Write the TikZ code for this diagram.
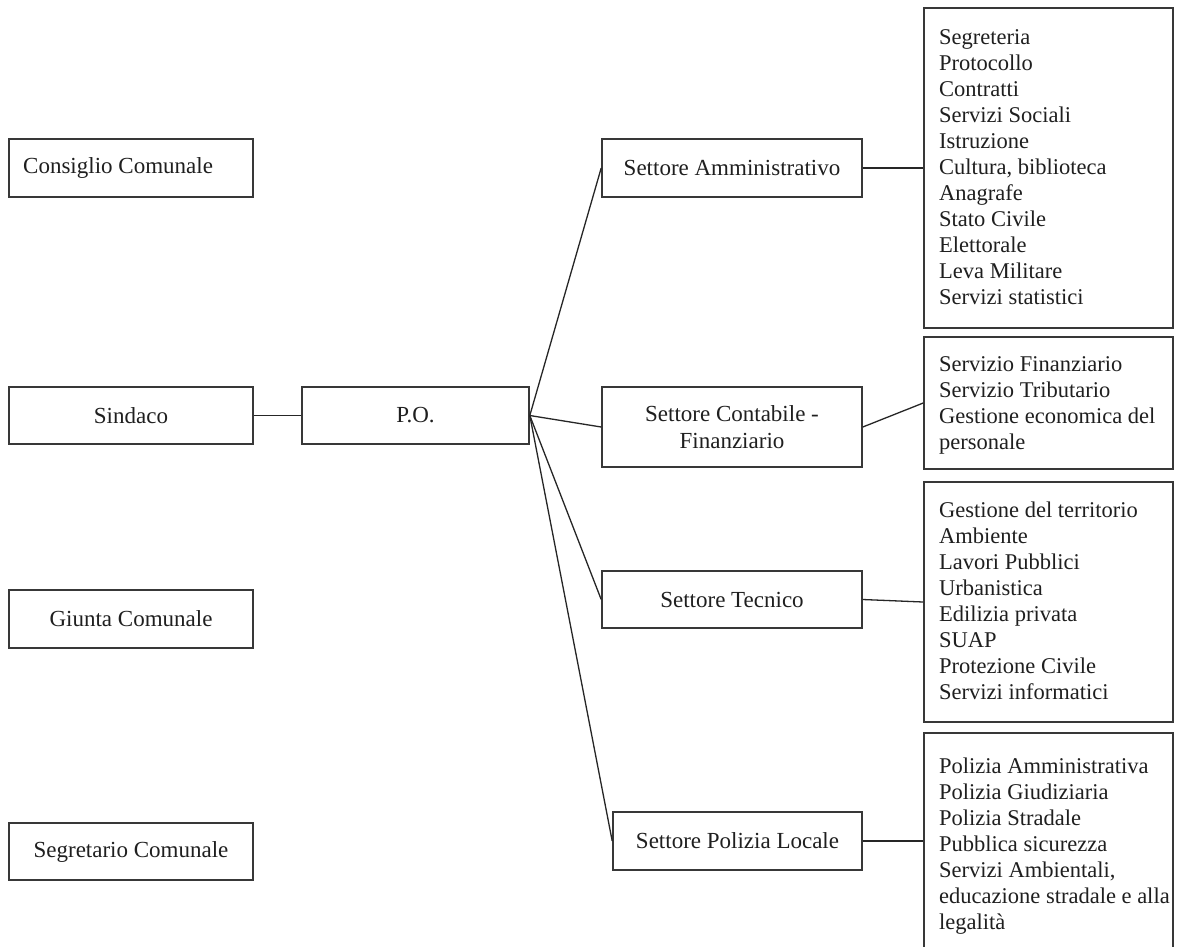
\documentclass[tikz,border=0pt]{standalone}
\usepackage{fontspec}
\setmainfont{Liberation Serif}
\begin{document}
\begin{tikzpicture}[x=1pt,y=-1pt,
  box/.style={draw=black!78, line width=1.6pt, rectangle, inner sep=0pt, text=black!88,
    font=\fontsize{23}{27}\selectfont, align=center},
  plaintext/.style={inner sep=0pt, text=black!88, font=\fontsize{23}{27}\selectfont},
  listtext/.style={anchor=north west, inner sep=0pt, align=left, text=black!88,
    font=\fontsize{22.5}{26}\selectfont},
  conn/.style={draw=black!85, line width=1.3pt}]
\useasboundingbox (0,0) rectangle (1177,946);
\fill[white] (0,0) rectangle (1177,946);
% left column
\node[box, minimum width=244pt, minimum height=58pt] (cons) at (131,168) {};
\node[plaintext, anchor=west] (consT) at (23,168) {Consiglio Comunale};
\node[box, minimum width=244pt, minimum height=57pt] (sind) at (131,415.5) {Sindaco};
\node[box, minimum width=244pt, minimum height=58pt] (giun) at (131,619) {Giunta Comunale};
\node[box, minimum width=244pt, minimum height=57pt] (segr) at (131,851.5) {Segretario Comunale};
\node[box, minimum width=227pt, minimum height=57pt] (po) at (415.5,415.5) {P.O.};
% sectors
\node[box, minimum width=260pt, minimum height=58pt] (amm) at (732,168) {Settore Amministrativo};
\node[box, minimum width=260pt, minimum height=80pt] (cont) at (732,427) {Settore Contabile -\\Finanziario};
\node[box, minimum width=260pt, minimum height=57pt] (tec) at (732,599.5) {Settore Tecnico};
\node[box, minimum width=249pt, minimum height=58pt] (pol) at (737.5,841) {Settore Polizia Locale};
% lists
\node[box, minimum width=249pt, minimum height=320pt] (r1) at (1048.5,168) {};
\node[box, minimum width=249pt, minimum height=132pt] (r2) at (1048.5,403) {};
\node[box, minimum width=249pt, minimum height=240pt] (r3) at (1048.5,602) {};
\node[box, minimum width=249pt, minimum height=227pt] (r4) at (1048.5,846.5) {};
\node[listtext] (t1) at (939,29) {Segreteria\\Protocollo\\Contratti\\Servizi Sociali\\Istruzione\\Cultura, biblioteca\\Anagrafe\\Stato Civile\\Elettorale\\Leva Militare\\Servizi statistici};
\node[listtext] (t2) at (939,356) {Servizio Finanziario\\Servizio Tributario\\Gestione economica del\\personale};
\node[listtext] (t3) at (939,502) {Gestione del territorio\\Ambiente\\Lavori Pubblici\\Urbanistica\\Edilizia privata\\SUAP\\Protezione Civile\\Servizi informatici};
\node[listtext] (t4) at (939,758) {Polizia Amministrativa\\Polizia Giudiziaria\\Polizia Stradale\\Pubblica sicurezza\\Servizi Ambientali,\\educazione stradale e alla\\legalità};
% connectors
\draw[conn] (sind.east) -- (po.west);
\draw[conn] (po.east) -- (amm.west);
\draw[conn] (po.east) -- (cont.west);
\draw[conn] (po.east) -- (tec.west);
\draw[conn] (po.east) -- (pol.west);
\draw[conn] (amm.east) -- (r1.west);
\draw[conn] (cont.east) -- (r2.west);
\draw[conn] (tec.east) -- (r3.west);
\draw[conn] (pol.east) -- (pol.east -| r4.west);
\end{tikzpicture}
\end{document}
